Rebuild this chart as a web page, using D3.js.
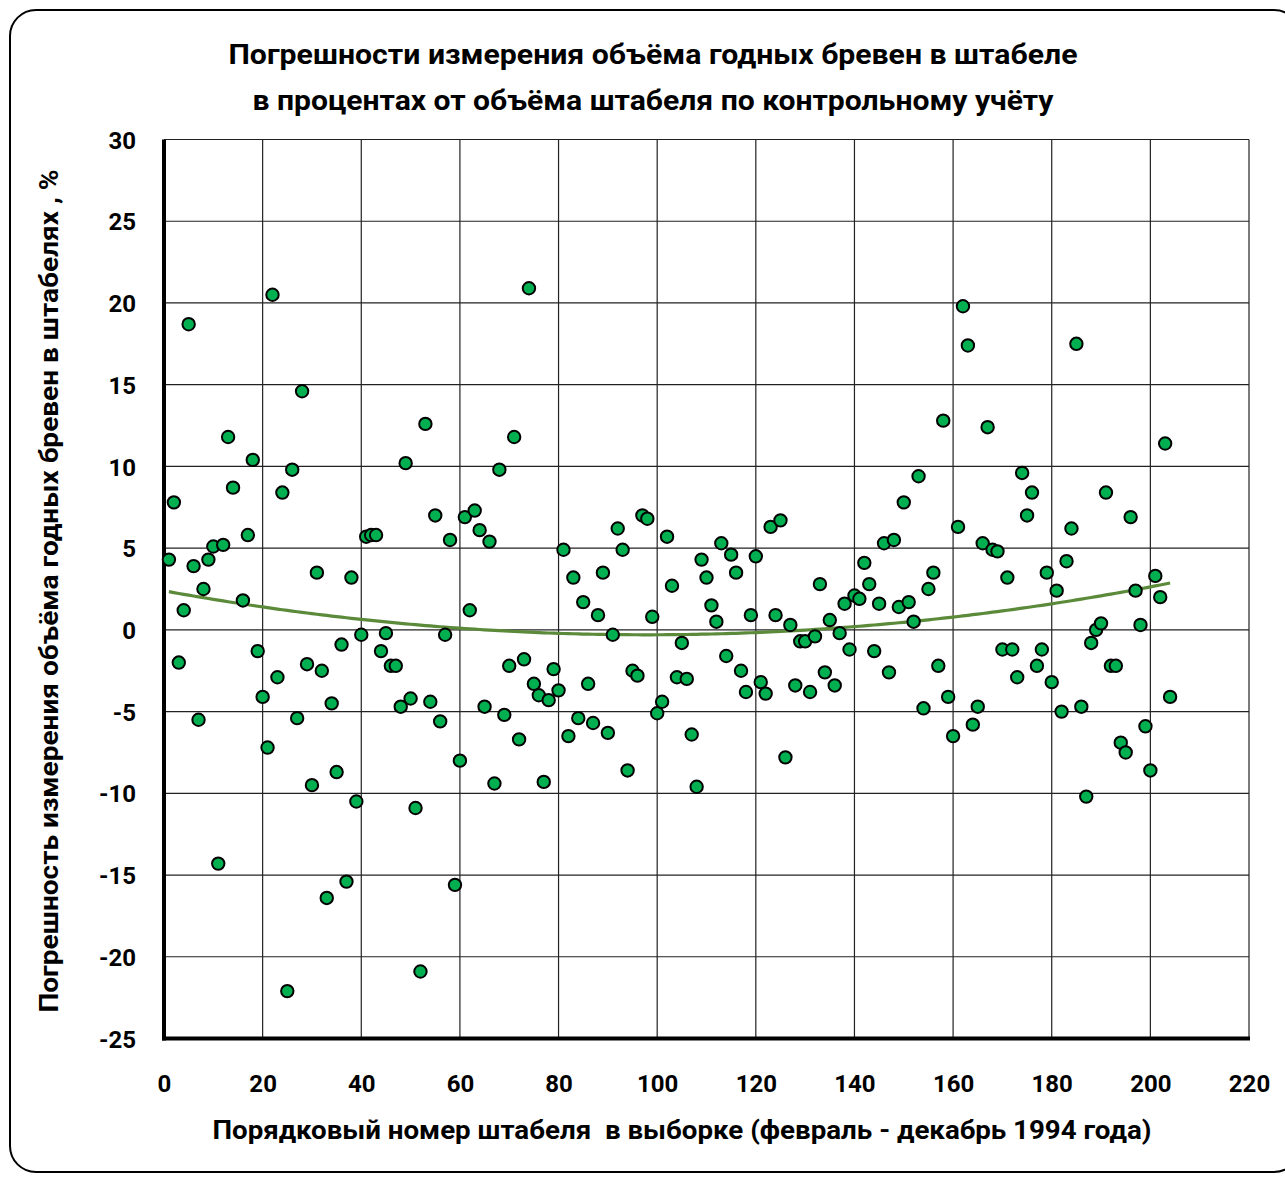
<!DOCTYPE html>
<html>
<head>
<meta charset="utf-8">
<script src="https://cdn.jsdelivr.net/npm/d3@7"></script>
<style>
  html, body { margin: 0; padding: 0; background: #fff; }
  svg { display: block; }
  text { font-family: Roboto, "Open Sans", "Liberation Sans", sans-serif; font-weight: bold; fill: #000; }
</style>
</head>
<body>
<svg id="chart" width="1285" height="1184"></svg>
<script>
// Measurement error of stacked log volume, % of control volume, by stack number (1..204).
// Stack 15 has no recorded value.
const errorPct = [
  4.3, 7.8, -2.0, 1.2, 18.7, 3.9, -5.5, 2.5, 4.3, 5.1,
  -14.3, 5.2, 11.8, 8.7, null, 1.8, 5.8, 10.4, -1.3, -4.1,
  -7.2, 20.5, -2.9, 8.4, -22.1, 9.8, -5.4, 14.6, -2.1, -9.5,
  3.5, -2.5, -16.4, -4.5, -8.7, -0.9, -15.4, 3.2, -10.5, -0.3,
  5.7, 5.8, 5.8, -1.3, -0.2, -2.2, -2.2, -4.7, 10.2, -4.2,
  -10.9, -20.9, 12.6, -4.4, 7.0, -5.6, -0.3, 5.5, -15.6, -8.0,
  6.9, 1.2, 7.3, 6.1, -4.7, 5.4, -9.4, 9.8, -5.2, -2.2,
  11.8, -6.7, -1.8, 20.9, -3.3, -4.0, -9.3, -4.3, -2.4, -3.7,
  4.9, -6.5, 3.2, -5.4, 1.7, -3.3, -5.7, 0.9, 3.5, -6.3,
  -0.3, 6.2, 4.9, -8.6, -2.5, -2.8, 7.0, 6.8, 0.8, -5.1,
  -4.4, 5.7, 2.7, -2.9, -0.8, -3.0, -6.4, -9.6, 4.3, 3.2,
  1.5, 0.5, 5.3, -1.6, 4.6, 3.5, -2.5, -3.8, 0.9, 4.5,
  -3.2, -3.9, 6.3, 0.9, 6.7, -7.8, 0.3, -3.4, -0.7, -0.7,
  -3.8, -0.4, 2.8, -2.6, 0.6, -3.4, -0.2, 1.6, -1.2, 2.1,
  1.9, 4.1, 2.8, -1.3, 1.6, 5.3, -2.6, 5.5, 1.4, 7.8,
  1.7, 0.5, 9.4, -4.8, 2.5, 3.5, -2.2, 12.8, -4.1, -6.5,
  6.3, 19.8, 17.4, -5.8, -4.7, 5.3, 12.4, 4.9, 4.8, -1.2,
  3.2, -1.2, -2.9, 9.6, 7.0, 8.4, -2.2, -1.2, 3.5, -3.2,
  2.4, -5.0, 4.2, 6.2, 17.5, -4.7, -10.2, -0.8, 0.0, 0.4,
  8.4, -2.2, -2.2, -6.9, -7.5, 6.9, 2.4, 0.3, -5.9, -8.6,
  3.3, 2.0, 11.4, -4.1
];
const stackNo = errorPct.map((_, i) => i + 1);

// Polynomial (2nd order) trend line: constant, linear, quadratic coefficients
const trendCoef = [2.39, -0.055, 0.000281];
const trendRange = [1, 204];

const xTicks = [0, 20, 40, 60, 80, 100, 120, 140, 160, 180, 200, 220];
const yTicks = [-25, -20, -15, -10, -5, 0, 5, 10, 15, 20, 25, 30];

const titleLines = [
  "Погрешности измерения объёма годных бревен в штабеле",
  "в процентах от объёма штабеля по контрольному учёту"
];
const xTitle = "Порядковый номер штабеля  в выборке (февраль - декабрь 1994 года)";
const yTitle = "Погрешность измерения объёма годных бревен в штабелях , %";

const points = stackNo
  .map((n, i) => ({ n, v: errorPct[i] }))
  .filter(d => d.v !== null);

const trend = xv => trendCoef[0] + trendCoef[1] * xv + trendCoef[2] * xv * xv;

const svg = d3.select("#chart");
const plot = { left: 164, right: 1249, top: 139.5, bottom: 1038.5 };

// rounded outer frame
svg.append("rect")
  .attr("x", 10).attr("y", 10)
  .attr("width", 1290).attr("height", 1162)
  .attr("rx", 26).attr("ry", 26)
  .attr("fill", "#fff").attr("stroke", "#000").attr("stroke-width", 2);

const x = d3.scaleLinear().domain([0, 220]).range([plot.left, plot.right]);
const y = d3.scaleLinear().domain([-25, 30]).range([plot.bottom, plot.top]);

// grid
const grid = svg.append("g");
grid.selectAll("line.gx").data(xTicks.slice(1)).join("line")
  .attr("x1", d => x(d)).attr("x2", d => x(d))
  .attr("y1", plot.top).attr("y2", plot.bottom)
  .attr("stroke", "#222").attr("stroke-width", 1.2);
grid.selectAll("line.gy").data(yTicks.slice(1)).join("line")
  .attr("x1", plot.left).attr("x2", plot.right)
  .attr("y1", d => y(d)).attr("y2", d => y(d))
  .attr("stroke", "#222").attr("stroke-width", 1.2);

// axes (plain hyphen-minus for negative labels)
const plain = d => String(d);
const xAxis = d3.axisBottom(x).tickValues(xTicks).tickFormat(plain).tickSize(0).tickPadding(0);
const yAxis = d3.axisLeft(y).tickValues(yTicks).tickFormat(plain).tickSize(0).tickPadding(0);

const gx = svg.append("g").attr("transform", `translate(0,${plot.bottom})`).call(xAxis);
gx.select(".domain").remove();
gx.selectAll("text").attr("font-size", 24).attr("dy", null).attr("y", 53)
  .attr("font-family", "Roboto, sans-serif").attr("font-weight", "bold");

const gy = svg.append("g").attr("transform", `translate(${plot.left},0)`).call(yAxis);
gy.select(".domain").remove();
gy.selectAll("text").attr("font-size", 24).attr("x", -28).attr("dy", "0.36em")
  .attr("font-family", "Roboto, sans-serif").attr("font-weight", "bold");

svg.append("line")
  .attr("x1", plot.left).attr("x2", plot.left)
  .attr("y1", plot.top).attr("y2", plot.bottom + 2)
  .attr("stroke", "#000").attr("stroke-width", 4);
svg.append("line")
  .attr("x1", plot.left - 2).attr("x2", plot.right + 1)
  .attr("y1", plot.bottom).attr("y2", plot.bottom)
  .attr("stroke", "#000").attr("stroke-width", 4);

// trend curve
const trendXs = d3.range(trendRange[0], trendRange[1] + 0.01, 1);
svg.append("path")
  .datum(trendXs)
  .attr("fill", "none")
  .attr("stroke", "#5B8A3A")
  .attr("stroke-width", 3.2)
  .attr("d", d3.line().x(d => x(d)).y(d => y(trend(d))));

// markers
svg.append("g").selectAll("circle").data(points).join("circle")
  .attr("cx", d => x(d.n)).attr("cy", d => y(d.v))
  .attr("r", 6.2)
  .attr("fill", "#00B050")
  .attr("stroke", "#000").attr("stroke-width", 2);

// titles
const titleWidths = [849, 801];
svg.selectAll("text.title").data(titleLines).join("text")
  .attr("class", "title")
  .attr("x", 653).attr("y", (d, i) => 64 + i * 46)
  .attr("text-anchor", "middle")
  .attr("font-size", 28)
  .attr("textLength", (d, i) => titleWidths[i])
  .attr("lengthAdjust", "spacingAndGlyphs")
  .text(d => d);

svg.append("text")
  .attr("x", 682).attr("y", 1139)
  .attr("text-anchor", "middle")
  .attr("font-size", 26)
  .attr("textLength", 939)
  .attr("lengthAdjust", "spacingAndGlyphs")
  .attr("xml:space", "preserve")
  .style("white-space", "pre")
  .text(xTitle);

svg.append("text")
  .attr("transform", "translate(58,591) rotate(-90)")
  .attr("text-anchor", "middle")
  .attr("font-size", 26)
  .attr("textLength", 843)
  .attr("lengthAdjust", "spacingAndGlyphs")
  .text(yTitle);
</script>
</body>
</html>
